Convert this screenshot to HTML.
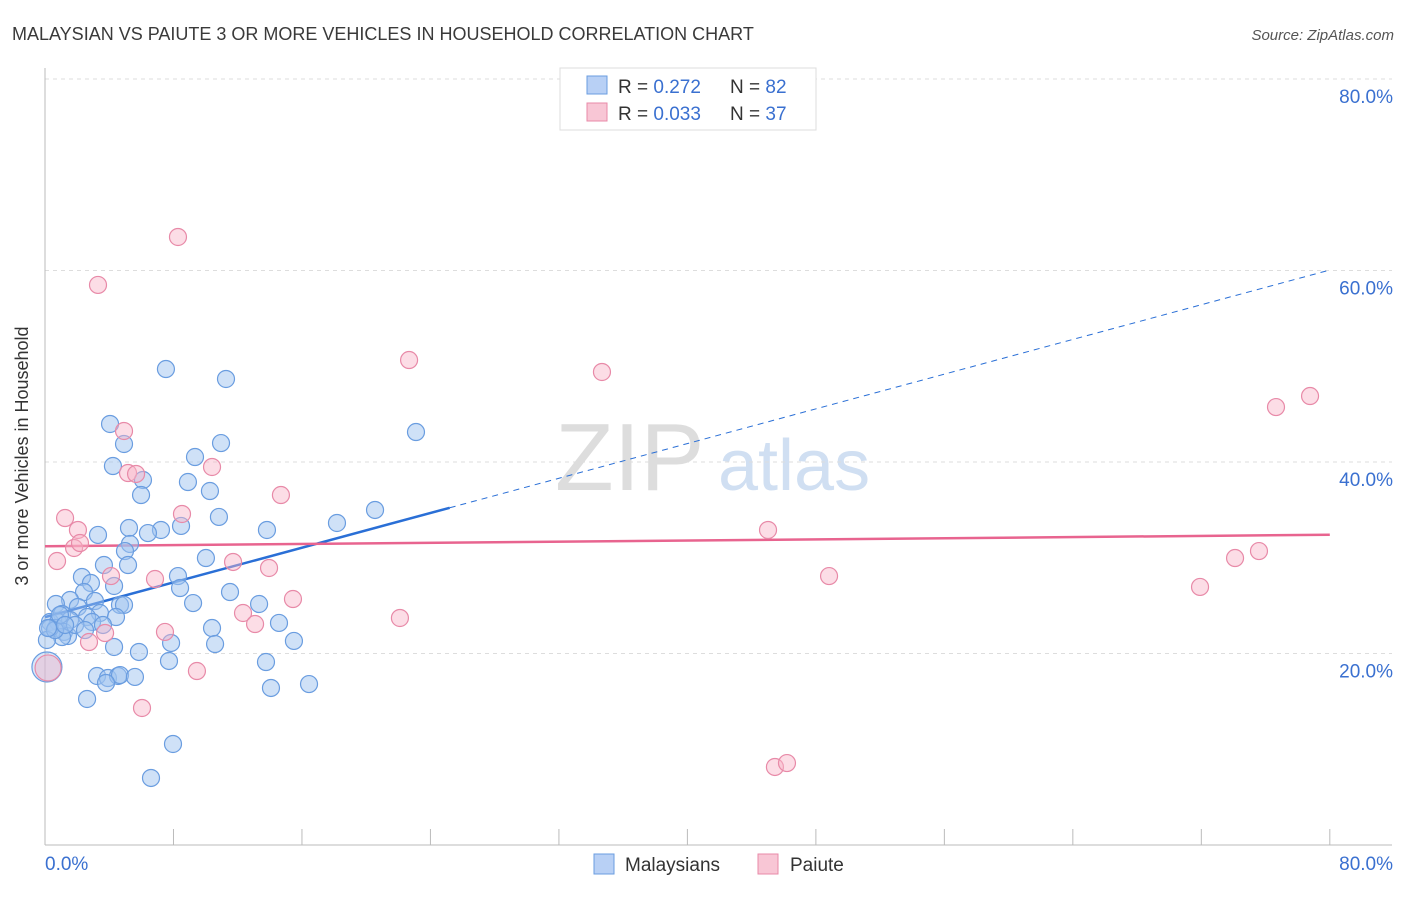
<!DOCTYPE html>
<html><head><meta charset="utf-8"><style>
body{margin:0;background:#fff;font-family:"Liberation Sans",sans-serif}
svg text{font-family:"Liberation Sans",sans-serif}
</style></head><body>
<svg id="chart" width="1406" height="892" xmlns="http://www.w3.org/2000/svg">
<text x="12" y="40" font-size="18" fill="#3a3a3a">MALAYSIAN VS PAIUTE 3 OR MORE VEHICLES IN HOUSEHOLD CORRELATION CHART</text>
<text x="1394" y="40" font-size="15" fill="#555" text-anchor="end" font-style="italic">Source: ZipAtlas.com</text>
<text x="28" y="456" font-size="18" fill="#333" transform="rotate(-90 28 456)" text-anchor="middle">3 or more Vehicles in Household</text>
<g><text x="555" y="490" font-size="96" fill="#ddd" font-family="Liberation Serif">ZIP</text><text x="718" y="490" font-size="72" fill="#d0dff2">atlas</text></g>
<g id="grid"></g><g id="axes"></g><g id="lines"></g><g id="pts"></g>
<g>
<rect x="560" y="68" width="256" height="62" fill="#fff" stroke="#ddd"/>
<rect x="587" y="76" width="20" height="18" fill="#b8d0f5" stroke="#6a9de0"/>
<rect x="587" y="103" width="20" height="18" fill="#f8c6d5" stroke="#e88aa8"/>
<text x="618" y="93" font-size="19" fill="#333">R = <tspan fill="#3a70d0">0.272</tspan><tspan x="730">N = </tspan><tspan fill="#3a70d0">82</tspan></text>
<text x="618" y="120" font-size="19" fill="#333">R = <tspan fill="#3a70d0">0.033</tspan><tspan x="730">N = </tspan><tspan fill="#3a70d0">37</tspan></text>
</g>
<g>
<rect x="594" y="854" width="20" height="20" fill="#b8d0f5" stroke="#6a9de0"/>
<text x="625" y="871" font-size="19" fill="#333">Malaysians</text>
<rect x="758" y="854" width="20" height="20" fill="#f8c6d5" stroke="#e88aa8"/>
<text x="790" y="871" font-size="19" fill="#333">Paiute</text>
</g>
</svg>
<script>
const blueX=[7.53,11.27,4.05,4.92,10.96,23.10,4.23,9.34,6.10,8.90,5.98,10.27,20.55,10.83,18.18,8.47,5.23,7.22,6.41,13.82,3.30,5.29,4.98,10.02,5.17,3.67,2.30,8.28,2.86,4.30,8.41,2.43,11.52,1.56,3.11,0.68,4.67,4.92,9.22,13.33,2.05,3.42,1.06,2.62,4.42,0.31,0.81,1.56,2.93,3.61,10.40,14.57,0.68,1.18,1.43,1.06,7.85,15.50,4.30,10.59,5.85,0.31,0.12,7.72,13.76,3.24,3.92,4.55,4.67,5.60,3.80,14.07,16.44,2.62,7.97,6.60,0.62,1.87,2.49,0.19,0.93,1.25];
const blueY=[49.71,48.67,43.97,41.88,41.98,43.13,39.58,40.52,38.12,37.91,36.55,36.97,34.99,34.26,33.63,33.32,33.11,32.90,32.58,32.90,32.38,31.44,30.70,29.97,29.24,29.24,27.99,28.09,27.36,27.05,26.84,26.42,26.42,25.59,25.48,25.17,25.07,25.07,25.27,25.17,24.86,24.23,24.13,23.81,23.81,23.29,23.29,23.50,23.29,22.98,22.66,23.19,22.66,22.25,21.83,21.72,21.10,21.31,20.68,20.99,20.16,22.66,21.41,19.22,19.11,17.65,17.44,17.65,17.75,17.55,16.92,16.40,16.81,15.25,10.55,7.00,22.45,22.98,22.45,22.66,24.02,22.98];
const pinkX=[8.28,3.30,22.67,34.68,76.65,78.77,4.92,10.40,5.17,5.67,14.69,8.53,1.25,2.05,1.81,2.18,0.75,11.71,4.11,45.02,75.59,74.10,6.85,48.82,13.95,71.92,15.44,12.33,13.08,22.10,7.47,3.74,2.74,9.46,6.04,45.45,46.20];
const pinkY=[63.50,58.49,50.65,49.40,45.74,46.89,43.24,39.48,38.85,38.75,36.55,34.57,34.15,32.90,31.02,31.54,29.66,29.56,28.09,32.90,30.70,29.97,27.78,28.09,28.93,26.95,25.69,24.23,23.08,23.71,22.25,22.14,21.20,18.17,14.31,8.15,8.56];
const bigX=[0.12,0.19], bigY=[18.59,18.49];
const yTicks=[20,40,60,80];
const yTickLabels=["20.0%","40.0%","60.0%","80.0%"];
const blueTrend=[23.8,60.05], pinkTrend=[31.2,32.4];
const NS="http://www.w3.org/2000/svg";
const sx=v=>45+v*16.06, sy=v=>845-v*9.575;
function mk(tag,attrs,parent){const e=document.createElementNS(NS,tag);for(const k in attrs)e.setAttribute(k,attrs[k]);document.getElementById(parent).appendChild(e);return e;}
yTicks.forEach((t,i)=>{
 const g=mk('line',{x1:45,x2:1392,y1:sy(t),y2:sy(t),stroke:'#ddd','stroke-dasharray':'4,4'},'grid');
 
 
 const tx=mk('text',{x:1393,y:sy(t)+24,'font-size':19,fill:'#3a70d0','text-anchor':'end'},'axes');
 tx.textContent=yTickLabels[i];
 
 
});
const ax=mk('line',{x1:45,x2:45,y1:68,y2:845,stroke:'#bbb'},'axes');


const bx=mk('line',{x1:45,x2:1392,y1:845,y2:845,stroke:'#bbb'},'axes');


for(let i=0;i<=10;i++){const t=mk('line',{x1:sx(i*8),x2:sx(i*8),y1:829,y2:845,stroke:'#bbb'},'axes');
 
 }
const x0=mk('text',{x:45,y:870,'font-size':19,fill:'#3a70d0'},'axes');x0.textContent='0.0%';


const x1=mk('text',{x:1393,y:870,'font-size':19,fill:'#3a70d0','text-anchor':'end'},'axes');x1.textContent='80.0%';


const by=x=>blueTrend[0]+(blueTrend[1]-blueTrend[0])*x/80;
const l1=mk('line',{x1:sx(0),y1:sy(by(0)),x2:sx(25.2),y2:sy(by(25.2)),stroke:'#2a6fd6','stroke-width':2.5},'lines');


const l2=mk('line',{x1:sx(25.2),y1:sy(by(25.2)),x2:sx(80),y2:sy(by(80)),stroke:'#2a6fd6','stroke-width':1,'stroke-dasharray':'6,5'},'lines');


const l3=mk('line',{x1:sx(0),y1:sy(pinkTrend[0]),x2:sx(80),y2:sy(pinkTrend[1]),stroke:'#e8648f','stroke-width':2.5},'lines');


function pts(X,Y,fill,stroke,r,name){X.forEach((x,i)=>{const c=mk('circle',{cx:sx(x),cy:sy(Y[i]),r:r,fill:fill,stroke:stroke,'stroke-width':1.2},'pts');
 
 });}
pts(blueX,blueY,'rgba(160,195,240,0.5)','#6a9de0',8.5,'malaysians-point');
pts(pinkX,pinkY,'rgba(248,180,200,0.45)','#e88aa8',8.5,'paiute-point');
pts(bigX.slice(0,1),bigY.slice(0,1),'rgba(160,195,240,0.4)','#6a9de0',15,'malaysians-point');
pts(bigX.slice(1),bigY.slice(1),'rgba(240,180,200,0.45)','#e88aa8',13,'paiute-point');
</script>
</body></html>
